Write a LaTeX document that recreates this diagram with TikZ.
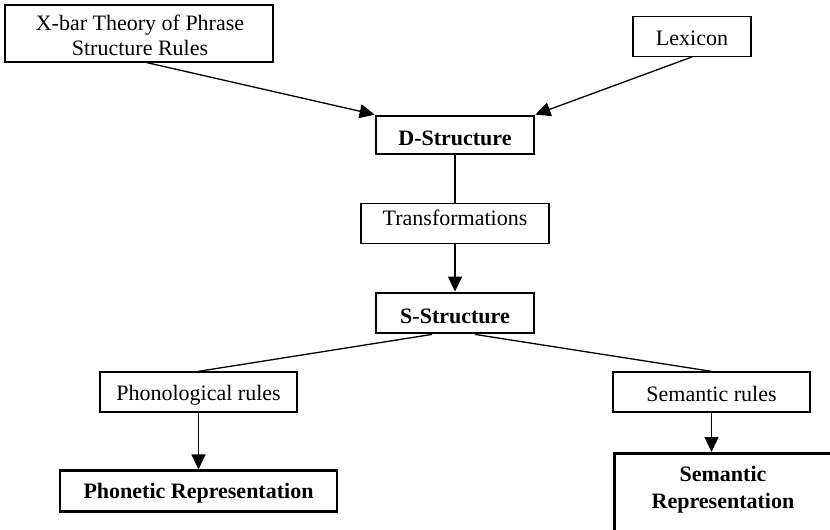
\documentclass[tikz,border=0pt]{standalone}
\usepackage{fontspec}
\setmainfont{Liberation Serif}
\usetikzlibrary{arrows.meta,calc}
\begin{document}
\begin{tikzpicture}[x=1pt,y=-1pt,
  every node/.style={inner sep=0pt,font=\fontsize{22}{26}\selectfont},
  thinbox/.style={draw,line width=1.3pt},
  thickbox/.style={draw,line width=2.8pt,font=\fontsize{22}{26}\selectfont\bfseries},
  bl/.style={text depth=6pt,text height=#1},
  boldtext/.style={font=\fontsize{22}{26}\selectfont\bfseries},
  link/.style={line width=1.3pt},
  arr/.style={link,-{Triangle[length=15pt,width=14pt]}}]
\useasboundingbox (0,0) rectangle (830,530);
% input components
\node[thinbox,minimum width=268pt,minimum height=57pt] (xbar) at (139,33.5) {};
\node[anchor=base] (xbar1) at (140,30) {X-bar Theory of Phrase};
\node[anchor=base] (xbar2) at (140,55) {Structure Rules};
\node[thinbox,bl=24.8pt,minimum width=118pt,minimum height=40pt] (lex) at (692,36.3) {Lexicon};
% main levels
\node[thickbox,bl=27pt,minimum width=158pt,minimum height=38pt] (dstr) at (455,135) {D-Structure};
\node[thinbox,bl=10.8pt,minimum width=188pt,minimum height=40pt] (trans) at (455,223.3) {Transformations};
\node[thickbox,bl=26pt,minimum width=158pt,minimum height=40pt] (sstr) at (455,313) {S-Structure};
% interface branches
\node[thinbox,bl=22pt,minimum width=197pt,minimum height=40pt] (phon) at (198.5,392) {Phonological rules};
\node[thinbox,bl=25.4pt,minimum width=197pt,minimum height=40pt] (semr) at (711.5,392) {Semantic rules};
\node[thickbox,bl=20pt,minimum width=277pt,minimum height=41pt] (phonrep) at (198.5,491.3) {Phonetic Representation};
\node[thickbox,minimum width=219pt,minimum height=88pt,anchor=north west] (semrep) at (613,452) {};
\node[boldtext,anchor=base] (semrep1) at (723,481.7) {Semantic};
\node[boldtext,anchor=base] (semrep2) at (723,508.3) {Representation};
% connectors
\coordinate (sleft) at ($(sstr.south)+(-23,0)$);
\coordinate (sright) at ($(sstr.south)+(20,0)$);
\draw[arr] ($(xbar.south)+(8,0)$) -- (dstr.north west);
\draw[arr] (lex.south) -- (dstr.north east);
\draw[link] (dstr.south) -- (trans.north);
\draw[arr] (trans.south) -- (sstr.north);
\draw[link] (sleft) -- (phon.north);
\draw[link] (sright) -- (semr.north);
\draw[arr] (phon.south) -- (phonrep.north);
\draw[arr] (semr.south) -- (semr.south |- semrep.north);
\end{tikzpicture}
\end{document}
